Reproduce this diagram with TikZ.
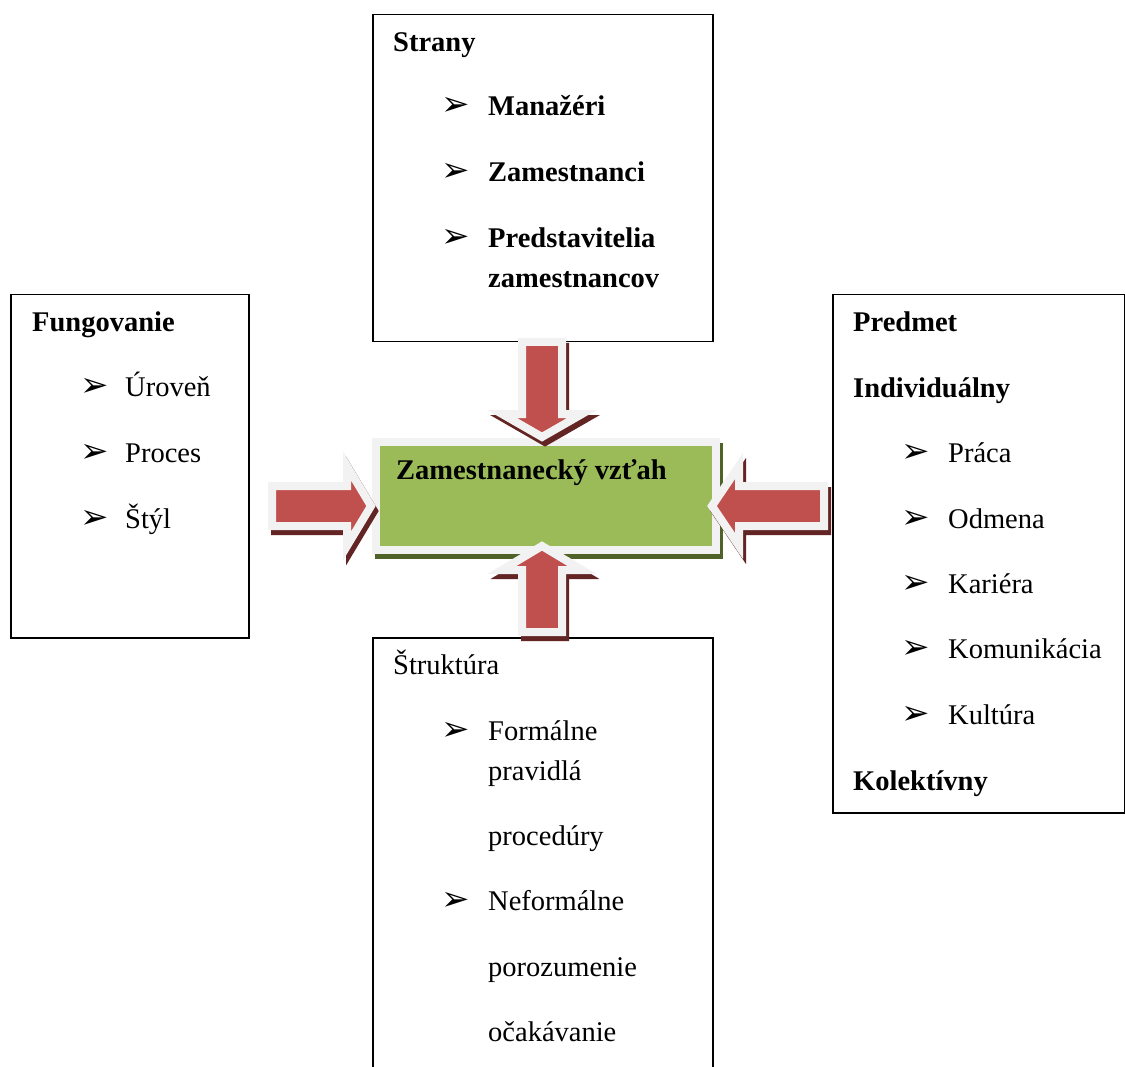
\documentclass[tikz,border=0pt]{standalone}
\usepackage{fontspec}
\setmainfont{Liberation Serif}
\newfontfamily\dingfont{DejaVu Sans}
\usetikzlibrary{calc}
\definecolor{arrowred}{HTML}{C0504D}
\definecolor{rimgray}{HTML}{F2F2F2}
\definecolor{shadowred}{HTML}{632523}
\definecolor{boxgreen}{HTML}{9BBB59}
\definecolor{shadowgreen}{HTML}{4F6228}
\tikzset{
  pics/barrow/.style n args={3}{code={
    \path[#3] (0,-20) -- (#1,-20) -- (#1,-40) -- ({#1+#2},0) -- (#1,40) -- (#1,20) -- (0,20) -- cycle;
  }},
  arrowmain/.style={draw=rimgray, fill=arrowred, line width=8pt, line join=miter},
  arrowshade/.style={draw=shadowred, fill=shadowred, line width=8pt, line join=miter},
  frame/.style={draw=black, line width=1.5pt, fill=white, anchor=north west, inner sep=0pt},
  gbox/.style={draw=rimgray, fill=boxgreen, line width=8pt, anchor=north west, inner sep=0pt},
  gshade/.style={draw=shadowgreen, fill=shadowgreen, line width=8pt, anchor=north west, inner sep=0pt},
  txt/.style={anchor=base west, inner sep=0pt, font=\fontsize{28.5}{34}\selectfont},
  hdr/.style={anchor=base west, inner sep=0pt, font=\fontsize{28.5}{34}\selectfont\bfseries},
  bul/.style={anchor=base west, inner sep=0pt, font=\fontsize{34}{40}\dingfont},
}
\begin{document}
\begin{tikzpicture}[x=1pt,y=-1pt]
\useasboundingbox (0,0) rectangle (1125,1067);
\clip (0,0) rectangle (1125,1067);
\fill[white] (0,0) rectangle (1125,1067);

% boxes
\node[frame, minimum width=340, minimum height=327] (strany) at (372,14) {};
\node[frame, minimum width=238, minimum height=343] (fung) at (10,294) {};
\node[frame, minimum width=292, minimum height=518] (predmet) at (832,294) {};
\node[frame, minimum width=340, minimum height=460] (strukt) at (372,637) {};

% central box
\node[gshade, minimum width=340, minimum height=108] (centershade) at (375,443) {};
\node[gbox, minimum width=340, minimum height=108] (center) at (372,438) {};
\node[hdr] (centertext) at (396,479) {Zamestnanecký vzťah};

% arrow start points
\coordinate (aT) at (542,342);
\coordinate (aB) at (542,632);
\coordinate (aL) at (272,506);
\coordinate (aR) at (824,506);

% arrow shadows
\pic[rotate=-90] at ($(aT)+(3,5)$) {barrow={72}{23}{arrowshade}};
\pic[rotate=90]  at ($(aB)+(3,5)$) {barrow={62}{24}{arrowshade}};
\pic             at ($(aL)+(3,5)$) {barrow={75}{24}{arrowshade}};
\pic[rotate=180] at ($(aR)+(3,5)$) {barrow={85}{27}{arrowshade}};
% arrows
\pic[rotate=-90] at (aT) {barrow={72}{23}{arrowmain}};
\pic[rotate=90]  at (aB) {barrow={62}{24}{arrowmain}};
\pic             at (aL) {barrow={75}{24}{arrowmain}};
\pic[rotate=180] at (aR) {barrow={85}{27}{arrowmain}};

% Strany
\node[hdr] (s0) at (393,52) {Strany};
\node[bul] (sb1) at (441,116) {➢};
\node[hdr] (s1) at (488,116) {Manažéri};
\node[bul] (sb2) at (441,182) {➢};
\node[hdr] (s2) at (488,182) {Zamestnanci};
\node[bul] (sb3) at (441,248) {➢};
\node[hdr] (s3) at (488,248) {Predstavitelia};
\node[hdr] (s4) at (488,288) {zamestnancov};

% Fungovanie
\node[hdr] (f0) at (32,332) {Fungovanie};
\node[bul] (fb1) at (80,396) {➢};
\node[txt] (f1) at (125,396) {Úroveň};
\node[bul] (fb2) at (80,462) {➢};
\node[txt] (f2) at (125,462) {Proces};
\node[bul] (fb3) at (80,528) {➢};
\node[txt] (f3) at (125,528) {Štýl};

% Predmet
\node[hdr] (p0) at (853,332) {Predmet};
\node[hdr] (p1) at (853,398) {Individuálny};
\node[bul] (pb1) at (901,462) {➢};
\node[txt] (p2) at (948,462) {Práca};
\node[bul] (pb2) at (901,528) {➢};
\node[txt] (p3) at (948,528) {Odmena};
\node[bul] (pb3) at (901,593) {➢};
\node[txt] (p4) at (948,593) {Kariéra};
\node[bul] (pb4) at (901,658) {➢};
\node[txt] (p5) at (948,658) {Komunikácia};
\node[bul] (pb5) at (901,724) {➢};
\node[txt] (p6) at (948,724) {Kultúra};
\node[hdr] (p7) at (853,790) {Kolektívny};

% Struktura
\node[txt] (k0) at (393,674) {Štruktúra};
\node[bul] (kb1) at (441,740) {➢};
\node[txt] (k1) at (488,740) {Formálne};
\node[txt] (k2) at (488,780) {pravidlá};
\node[txt] (k3) at (488,845) {procedúry};
\node[bul] (kb2) at (441,910) {➢};
\node[txt] (k4) at (488,910) {Neformálne};
\node[txt] (k5) at (488,976) {porozumenie};
\node[txt] (k6) at (488,1041) {očakávanie};
\end{tikzpicture}
\end{document}
